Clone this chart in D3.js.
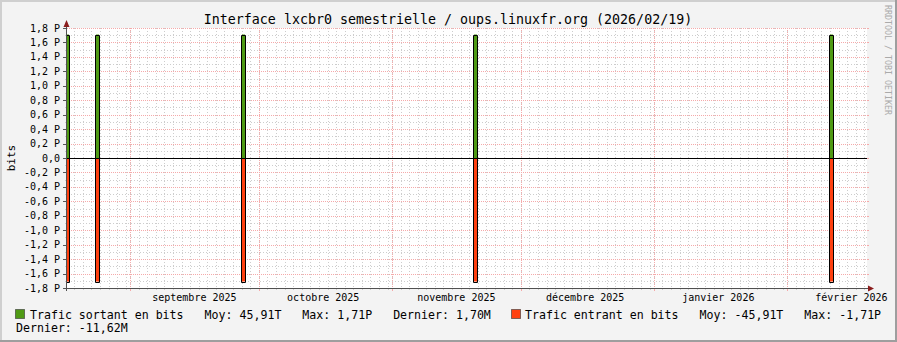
<!DOCTYPE html>
<html>
<head>
<meta charset="utf-8">
<script src="https://cdn.jsdelivr.net/npm/d3@7"></script>
<style>
html, body { margin: 0; padding: 0; background: #f3f3f3; }
svg { display: block; font-family: "DejaVu Sans Mono", monospace; }
</style>
</head>
<body>
<svg id="chart"></svg>
<script>
// Chart values (bits), one sample per day where traffic spiked
const spikeDates = ["2025-08-17", "2025-08-24", "2025-09-27", "2025-11-20", "2026-02-11"];
const outValues = [1.71e15, 1.71e15, 1.71e15, 1.71e15, 1.71e15];
const inValues = [-1.71e15, -1.71e15, -1.71e15, -1.71e15, -1.71e15];

// Axis labels
const monthStarts = ["2025-09-01", "2025-10-01", "2025-11-01", "2025-12-01", "2026-01-01", "2026-02-01"];
const monthLabels = ["septembre 2025", "octobre 2025", "novembre 2025", "décembre 2025", "janvier 2026", "février 2026"];
const yTickValues = [-1.8, -1.6, -1.4, -1.2, -1.0, -0.8, -0.6, -0.4, -0.2, 0, 0.2, 0.4, 0.6, 0.8, 1.0, 1.2, 1.4, 1.6, 1.8];

// Legend
const legendNames = ["Trafic sortant en bits", "Trafic entrant en bits"];
const legendMoy = ["45,91T", "-45,91T"];
const legendMax = ["1,71P", "-1,71P"];
const legendLast = ["1,70M", "-11,62M"];
const seriesColors = ["#4f9a14", "#ff4010"];

const width = 897, height = 342;
const plotLeft = 67, plotRight = 867, plotTop = 28, plotBottom = 288;
const PETA = 1e15;

const svg = d3.select("#chart").attr("width", width).attr("height", height);

// Background and bevel border
svg.append("rect").attr("width", width).attr("height", height).attr("fill", "#f3f3f3");
svg.append("rect").attr("x", 0).attr("y", 0).attr("width", width).attr("height", 2).attr("fill", "#cfcfcf");
svg.append("rect").attr("x", 0).attr("y", 0).attr("width", 2).attr("height", height).attr("fill", "#cfcfcf");
svg.append("rect").attr("x", 0).attr("y", height - 2).attr("width", width).attr("height", 2).attr("fill", "#9e9e9e");
svg.append("rect").attr("x", width - 2).attr("y", 0).attr("width", 2).attr("height", height).attr("fill", "#9e9e9e");

// Scales
const x = d3.scaleUtc()
    .domain([new Date(Date.UTC(2025, 7, 17, 8)), new Date(Date.UTC(2026, 1, 19, 15))])
    .range([plotLeft, plotRight]);
const y = d3.scaleLinear().domain([-1.8 * PETA, 1.8 * PETA]).range([plotBottom, plotTop]);
const px = v => Math.round(v) + 0.5;

// Plot canvas
svg.append("rect").attr("x", plotLeft).attr("y", plotTop)
    .attr("width", plotRight - plotLeft).attr("height", plotBottom - plotTop).attr("fill", "#fff");

const grid = svg.append("g");

// Minor grid: horizontal every 0.1 P, vertical every 2 days
const minorY = d3.range(-17, 18, 2).map(k => k / 10 * PETA);
grid.selectAll(".hmin").data(minorY).enter().append("line")
    .attr("x1", plotLeft - 2).attr("x2", plotRight + 2)
    .attr("y1", d => px(y(d))).attr("y2", d => px(y(d)))
    .attr("stroke", "#cdcdcd").attr("stroke-dasharray", "1,2");
grid.selectAll(".vmin").data(d3.utcDay.every(2).range(...x.domain())).enter().append("line")
    .attr("x1", d => px(x(d))).attr("x2", d => px(x(d)))
    .attr("y1", plotTop).attr("y2", plotBottom + 2)
    .attr("stroke", "#cdcdcd").attr("stroke-dasharray", "1,2");

// Major grid: horizontal every 0.2 P, vertical at month starts
const monthDates = monthStarts.map(s => new Date(s + "T00:00:00Z"));
grid.selectAll(".hmaj").data(yTickValues).enter().append("line")
    .attr("x1", plotLeft).attr("x2", plotRight)
    .attr("y1", d => px(y(d * PETA))).attr("y2", d => px(y(d * PETA)))
    .attr("stroke", "#f5aaaa").attr("stroke-dasharray", "1,1");
grid.selectAll(".vmaj").data(monthDates).enter().append("line")
    .attr("x1", d => px(x(d))).attr("x2", d => px(x(d)))
    .attr("y1", plotTop).attr("y2", plotBottom)
    .attr("stroke", "#f5aaaa").attr("stroke-dasharray", "1,1");
// Small ticks outside the plot
grid.selectAll(".ytick").data(yTickValues).enter().append("line")
    .attr("x1", plotLeft - 4).attr("x2", plotLeft)
    .attr("y1", d => px(y(d * PETA))).attr("y2", d => px(y(d * PETA)))
    .attr("stroke", "#555");
grid.selectAll(".ytickr").data(yTickValues).enter().append("line")
    .attr("x1", plotRight).attr("x2", plotRight + 2)
    .attr("y1", d => px(y(d * PETA))).attr("y2", d => px(y(d * PETA)))
    .attr("stroke", "#f5aaaa");
grid.selectAll(".xtick").data(monthDates).enter().append("line")
    .attr("x1", d => px(x(d))).attr("x2", d => px(x(d)))
    .attr("y1", plotBottom).attr("y2", plotBottom + 3)
    .attr("stroke", "#f5aaaa");

// Spikes: area + black outline, one day wide
svg.append("clipPath").attr("id", "plotclip").append("rect")
    .attr("x", plotLeft - 1).attr("y", plotTop - 1)
    .attr("width", plotRight - plotLeft + 2).attr("height", plotBottom - plotTop + 2);
const spikes = spikeDates.map((s, i) => {
    const d0 = new Date(s + "T00:00:00Z");
    return { d0, d1: d3.utcDay.offset(d0, 1), out: outValues[i], inn: inValues[i] };
});
const marks = svg.append("g").attr("clip-path", "url(#plotclip)");
[["out", 0], ["inn", 1]].forEach(([key, ci]) => {
    marks.selectAll(".area-" + key).data(spikes).enter().append("rect")
        .attr("x", d => Math.round(x(d.d0)))
        .attr("width", d => Math.round(x(d.d1)) - Math.round(x(d.d0)) - 1)
        .attr("y", d => Math.min(y(d[key]), y(0)))
        .attr("height", d => Math.abs(y(d[key]) - y(0)))
        .attr("fill", seriesColors[ci]);
    marks.selectAll(".line-" + key).data(spikes).enter().append("path")
        .attr("d", d => {
            const a = Math.round(x(d.d0)) - 0.5, b = Math.round(x(d.d1)) - 0.5;
            const yv = Math.round(y(d[key])) + 0.5, y0 = px(y(0));
            return `M${a},${y0}V${yv}H${b}V${y0}`;
        })
        .attr("fill", "none").attr("stroke", "#000");
});

// Zero line
svg.append("line").attr("x1", plotLeft).attr("x2", plotRight)
    .attr("y1", px(y(0))).attr("y2", px(y(0))).attr("stroke", "#000");

// Axes with arrows
svg.append("line").attr("x1", plotLeft - 0.5).attr("x2", plotLeft - 0.5)
    .attr("y1", plotBottom + 3).attr("y2", plotTop - 6).attr("stroke", "#505050");
svg.append("line").attr("x1", plotLeft - 3).attr("x2", plotRight + 2)
    .attr("y1", plotBottom + 0.5).attr("y2", plotBottom + 0.5).attr("stroke", "#505050");
svg.append("path").attr("d", `M${plotLeft - 3.5},${plotTop - 1}L${plotLeft + 2.5},${plotTop - 1}L${plotLeft - 0.5},${plotTop - 8}Z`).attr("fill", "#8a1c1c");
svg.append("path").attr("d", `M${plotRight + 1},${plotBottom - 2.5}L${plotRight + 1},${plotBottom + 3.5}L${plotRight + 7},${plotBottom + 0.5}Z`).attr("fill", "#8a1c1c");

// Y tick labels
const frFormat = d3.formatLocale({ decimal: ",", thousands: " ", grouping: [3], currency: ["", " €"], minus: "-" }).format(".1f");
svg.selectAll(".ylabel").data(yTickValues).enter().append("text")
    .attr("x", 60).attr("y", d => y(d * PETA) + 3.6)
    .attr("text-anchor", "end").attr("font-size", 10).attr("fill", "#000")
    .text(d => d === 0 ? "0,0" : frFormat(d) + " P");

// Month labels, centred 15 days after the month start
svg.selectAll(".xlabel").data(monthDates).enter().append("text")
    .attr("x", d => x(d3.utcDay.offset(d, 15)))
    .attr("y", 301)
    .attr("text-anchor", "middle").attr("font-size", 10).attr("fill", "#000")
    .text((d, i) => monthLabels[i]);

// Title, unit, watermark
svg.append("text").attr("x", 448).attr("y", 24).attr("text-anchor", "middle")
    .attr("font-size", 13.3).attr("fill", "#000")
    .text("Interface lxcbr0 semestrielle / oups.linuxfr.org (2026/02/19)");
svg.append("text").attr("transform", "translate(14.5,158) rotate(-90)").attr("text-anchor", "middle")
    .attr("font-size", 11).attr("fill", "#000").text("bits");
svg.append("text").attr("transform", "translate(884.5,5) rotate(90)")
    .attr("font-size", 8.3).attr("fill", "#aaa").text("RRDTOOL / TOBI OETIKER");

// Legend: monospace, pieces placed on a character grid
const legendFont = 11.6, charW = legendFont * 0.602;
const legend = svg.append("g").attr("font-size", legendFont).attr("fill", "#000");
function legendLine(x0, yb, pieces) {
    let col = 0;
    pieces.forEach(p => {
        legend.append("text").attr("x", x0 + col * charW).attr("y", yb).text(p);
        col += p.length + 3;
    });
}
const boxX = [15, 511];
boxX.forEach((bx, i) => {
    legend.append("rect").attr("x", bx + 0.5).attr("y", 309.5).attr("width", 9).attr("height", 9)
        .attr("fill", seriesColors[i]).attr("stroke", "#333").attr("stroke-opacity", 0.6);
});
legendLine(30, 318.5, [legendNames[0], "Moy: " + legendMoy[0], "Max: " + legendMax[0], "Dernier: " + legendLast[0]]);
legendLine(525, 318.5, [legendNames[1], "Moy: " + legendMoy[1], "Max: " + legendMax[1]]);
legendLine(16, 332, ["Dernier: " + legendLast[1]]);
</script>
</body>
</html>
